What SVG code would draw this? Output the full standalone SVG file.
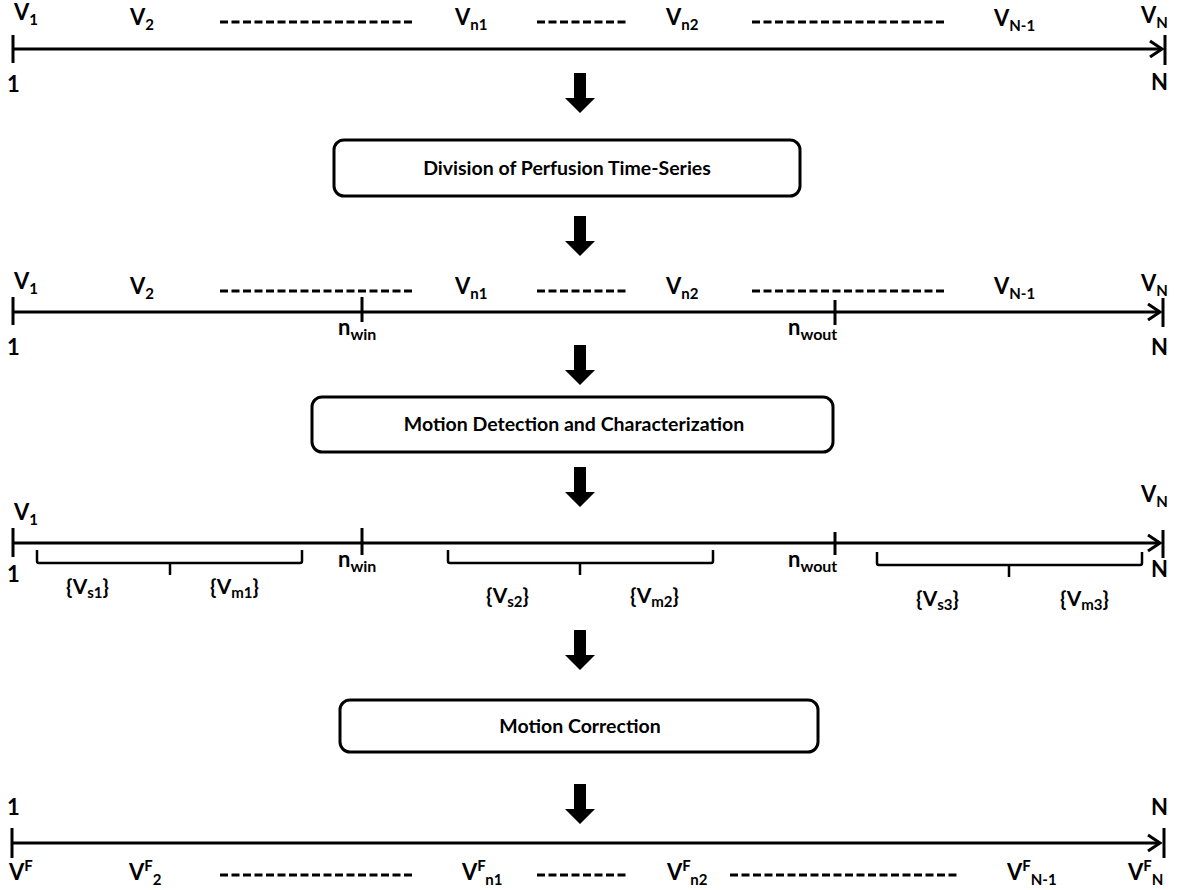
<svg xmlns="http://www.w3.org/2000/svg" width="1177" height="890" viewBox="0 0 1177 890">
<defs>
<style>
.t{font-family:Lato,"Liberation Sans",sans-serif;font-weight:bold;fill:#000}
.lab{font-size:22px}
.s{font-size:15px}
.bx{font-size:19.5px}
.br{font-size:21px}
.axis{stroke:#000;stroke-width:3;fill:none}
.tick{stroke:#000;stroke-width:3}
.dash{stroke:#000;stroke-width:3;stroke-dasharray:8,3.5}
.box{fill:#fff;stroke:#000;stroke-width:3}
.brace{stroke:#000;stroke-width:2.5;fill:none}
</style>
<path id="dn" d="M-6,0 H6 V25 H15 L0,40 L-15,25 H-6 Z"/>
</defs>
<rect width="1177" height="890" fill="#fff"/>

<g id="timeline1">
<line class="axis" x1="13" y1="49" x2="1162" y2="49"/>
<polyline class="axis" points="1150,41 1162,49 1150,57"/>
<line class="tick" x1="13" y1="35" x2="13" y2="63"/>
<line class="tick" x1="1165" y1="35" x2="1165" y2="65"/>
<line class="dash" x1="220" y1="22" x2="415" y2="22"/>
<line class="dash" x1="537" y1="22" x2="627" y2="22"/>
<line class="dash" x1="752" y1="22" x2="945" y2="22"/>
<text class="t lab" x="14" y="20">V<tspan class="s" dy="5">1</tspan></text>
<text class="t lab" x="130" y="25">V<tspan class="s" dy="5">2</tspan></text>
<text class="t lab" x="455" y="25">V<tspan class="s" dy="5">n1</tspan></text>
<text class="t lab" x="666" y="25">V<tspan class="s" dy="5">n2</tspan></text>
<text class="t lab" x="994" y="26">V<tspan class="s" dy="5">N-1</tspan></text>
<text class="t lab" x="1141" y="23">V<tspan class="s" dy="5">N</tspan></text>
<text class="t lab" x="7" y="92">1</text>
<text class="t lab" x="1151" y="90">N</text>
</g>

<g id="box1">
<rect class="box" x="334" y="140" width="466" height="56" rx="10"/>
<text class="t bx" x="567" y="175" text-anchor="middle">Division of Perfusion Time-Series</text>
</g>

<g id="timeline2">
<line class="axis" x1="13" y1="312" x2="1160" y2="312"/>
<polyline class="axis" points="1148,304 1160,312 1148,320"/>
<line class="tick" x1="13" y1="297" x2="13" y2="325"/>
<line class="tick" x1="362" y1="297" x2="362" y2="322"/>
<line class="tick" x1="835" y1="300" x2="835" y2="325"/>
<line class="tick" x1="1163" y1="298" x2="1163" y2="327"/>
<line class="dash" x1="220" y1="291" x2="415" y2="291"/>
<line class="dash" x1="537" y1="291" x2="627" y2="291"/>
<line class="dash" x1="752" y1="291" x2="945" y2="291"/>
<text class="t lab" x="14" y="289">V<tspan class="s" dy="5">1</tspan></text>
<text class="t lab" x="130" y="294">V<tspan class="s" dy="5">2</tspan></text>
<text class="t lab" x="455" y="294">V<tspan class="s" dy="5">n1</tspan></text>
<text class="t lab" x="666" y="294">V<tspan class="s" dy="5">n2</tspan></text>
<text class="t lab" x="994" y="294">V<tspan class="s" dy="5">N-1</tspan></text>
<text class="t lab" x="1141" y="291">V<tspan class="s" dy="5">N</tspan></text>
<text class="t lab" x="338" y="335">n<tspan class="s" dy="5" style="font-size:16px">win</tspan></text>
<text class="t lab" x="788" y="335">n<tspan class="s" dy="5" style="font-size:16px">wout</tspan></text>
<text class="t lab" x="7" y="355">1</text>
<text class="t lab" x="1151" y="355">N</text>
</g>

<g id="box2">
<rect class="box" x="312" y="397" width="521" height="55" rx="10"/>
<text class="t bx" x="574" y="431" text-anchor="middle">Motion Detection and Characterization</text>
</g>

<g id="timeline3">
<line class="axis" x1="13" y1="543" x2="1160" y2="543"/>
<polyline class="axis" points="1148,535 1160,543 1148,551"/>
<line class="tick" x1="13" y1="528" x2="13" y2="557"/>
<line class="tick" x1="362" y1="528" x2="362" y2="555"/>
<line class="tick" x1="835" y1="532" x2="835" y2="555"/>
<line class="tick" x1="1163" y1="530" x2="1163" y2="558"/>
<text class="t lab" x="14" y="520">V<tspan class="s" dy="5">1</tspan></text>
<text class="t lab" x="1141" y="502">V<tspan class="s" dy="5">N</tspan></text>
<text class="t lab" x="338" y="567">n<tspan class="s" dy="5" style="font-size:16px">win</tspan></text>
<text class="t lab" x="788" y="567">n<tspan class="s" dy="5" style="font-size:16px">wout</tspan></text>
<text class="t lab" x="7" y="582">1</text>
<text class="t lab" x="1151" y="577">N</text>
<path class="brace" d="M37,550 V561 Q37,563 39,563 H300 Q302,563 302,561 V550 M170,563 V575"/>
<path class="brace" d="M448,550 V561 Q448,563 450,563 H711 Q713,563 713,561 V550 M580,563 V575"/>
<path class="brace" d="M877,552 V563 Q877,565 879,565 H1140 Q1142,565 1142,563 V552 M1009,565 V577"/>
<text class="t br" x="66" y="594">{V<tspan class="s" dy="4">s1</tspan><tspan dy="-4">}</tspan></text>
<text class="t br" x="210" y="594">{V<tspan class="s" dy="4">m1</tspan><tspan dy="-4">}</tspan></text>
<text class="t br" x="486" y="603">{V<tspan class="s" dy="4">s2</tspan><tspan dy="-4">}</tspan></text>
<text class="t br" x="630" y="603">{V<tspan class="s" dy="4">m2</tspan><tspan dy="-4">}</tspan></text>
<text class="t br" x="916" y="606">{V<tspan class="s" dy="4">s3</tspan><tspan dy="-4">}</tspan></text>
<text class="t br" x="1060" y="606">{V<tspan class="s" dy="4">m3</tspan><tspan dy="-4">}</tspan></text>
</g>

<g id="box3">
<rect class="box" x="340" y="700" width="478" height="52" rx="10"/>
<text class="t bx" x="580" y="733" text-anchor="middle">Motion Correction</text>
</g>

<g id="timeline4">
<line class="axis" x1="12" y1="843" x2="1160" y2="843"/>
<polyline class="axis" points="1148,835 1160,843 1148,851"/>
<line class="tick" x1="12" y1="828" x2="12" y2="858"/>
<line class="tick" x1="1164" y1="828" x2="1164" y2="858"/>
<line class="dash" x1="220" y1="875" x2="415" y2="875"/>
<line class="dash" x1="537" y1="875" x2="627" y2="875"/>
<line class="dash" x1="730" y1="875" x2="960" y2="875"/>
<text class="t lab" x="7" y="815">1</text>
<text class="t lab" x="1151" y="815">N</text>
<text class="t lab" x="9" y="880">V<tspan class="s" dy="-9">F</tspan></text>
<text class="t lab" x="129" y="880">V<tspan class="s" dy="-9">F</tspan><tspan class="s" dy="14">2</tspan></text>
<text class="t lab" x="462" y="880">V<tspan class="s" dy="-9">F</tspan><tspan class="s" dy="14">n1</tspan></text>
<text class="t lab" x="667" y="880">V<tspan class="s" dy="-9">F</tspan><tspan class="s" dy="14">n2</tspan></text>
<text class="t lab" x="1007" y="880">V<tspan class="s" dy="-9">F</tspan><tspan class="s" dy="14">N-1</tspan></text>
<text class="t lab" x="1128" y="880">V<tspan class="s" dy="-9">F</tspan><tspan class="s" dy="14">N</tspan></text>
</g>

<g id="connectors">
<use href="#dn" x="580" y="73"/>
<use href="#dn" x="580" y="216"/>
<use href="#dn" x="580" y="345"/>
<use href="#dn" x="580" y="467"/>
<use href="#dn" x="580" y="630"/>
<use href="#dn" x="580" y="784"/>
</g>
</svg>
